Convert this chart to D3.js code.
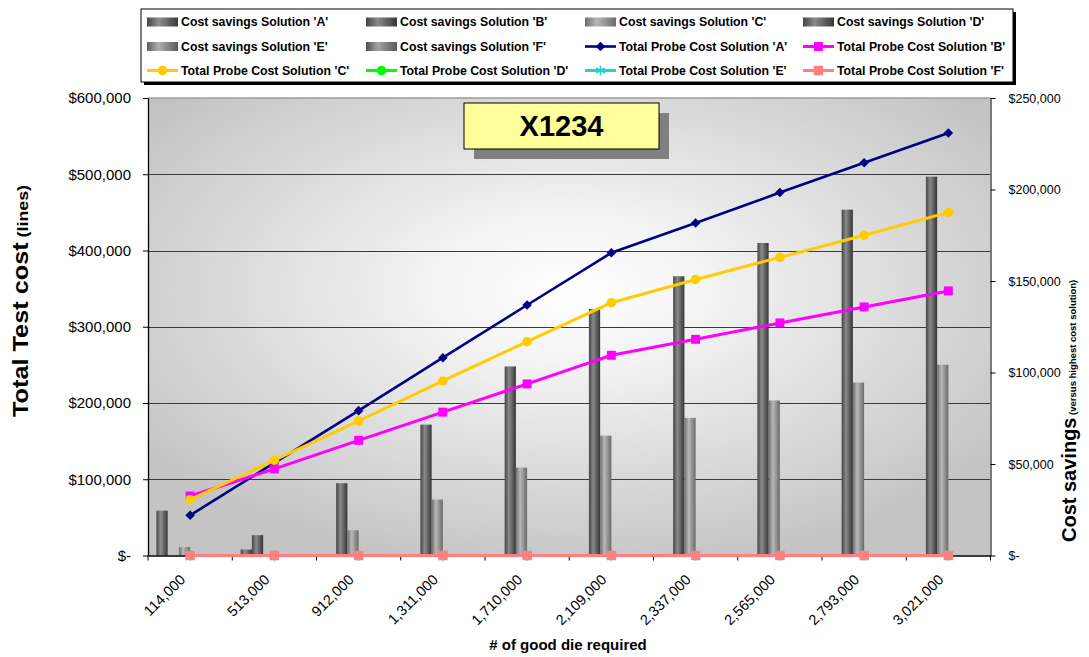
<!DOCTYPE html>
<html>
<head>
<meta charset="utf-8">
<script src="https://cdn.jsdelivr.net/npm/d3@7"></script>
<style>
  html, body { margin: 0; padding: 0; background: #fff; }
  svg { display: block; font-family: "Liberation Sans", Arial, sans-serif; }
</style>
</head>
<body>
<svg id="chart" width="1089" height="657"></svg>
<script>
// ---- data ----
const categories = ["114,000", "513,000", "912,000", "1,311,000", "1,710,000",
                    "2,109,000", "2,337,000", "2,565,000", "2,793,000", "3,021,000"];
const solutions = ["A", "B", "C", "D", "E", "F"];

// Total probe cost per solution (left axis)
const probeCostA = [52700, 121600, 190000, 259400, 328500, 397000, 436000, 476000, 515000, 554000];
const probeCostB = [78000, 113600, 151000, 188000, 225000, 262600, 283500, 305000, 326000, 347000];
const probeCostC = [73200, 125000, 176400, 228900, 280400, 331500, 362000, 391000, 420000, 450000];
const probeCostD = [0, 0, 0, 0, 0, 0, 0, 0, 0, 0];
const probeCostE = [0, 0, 0, 0, 0, 0, 0, 0, 0, 0];
const probeCostF = [0, 0, 0, 0, 0, 0, 0, 0, 0, 0];

// Cost savings versus the highest cost solution (right axis)
const savingsA = [24500, 3300, 0, 0, 0, 0, 0, 0, 0, 0];
const savingsB = [0, 11100, 39500, 71500, 103300, 134700, 152600, 170800, 189000, 207000];
const savingsC = [4600, 0, 13800, 30600, 48000, 65500, 75200, 84700, 94500, 104200];
const savingsD = [0, 0, 0, 0, 0, 0, 0, 0, 0, 0];
const savingsE = [0, 0, 0, 0, 0, 0, 0, 0, 0, 0];
const savingsF = [0, 0, 0, 0, 0, 0, 0, 0, 0, 0];

const leftTicks = [0, 100000, 200000, 300000, 400000, 500000, 600000];
const rightTicks = [0, 50000, 100000, 150000, 200000, 250000];

const chartTitle = "X1234";
const xTitle = "# of good die required";

// ---- series tables built from the arrays above ----
const savingsSeries = [savingsA, savingsB, savingsC, savingsD, savingsE, savingsF]
  .map((vals, i) => ({ key: solutions[i], name: `Cost savings Solution '${solutions[i]}'`, vals }));
const costSeries = [probeCostA, probeCostB, probeCostC, probeCostD, probeCostE, probeCostF]
  .map((vals, i) => ({ key: solutions[i], name: `Total Probe Cost Solution '${solutions[i]}'`, vals }));

const lineStyle = {
  A: { color: "#000080", width: 2.6, symbol: "diamond" },
  B: { color: "#ff00ff", width: 3,   symbol: "square" },
  C: { color: "#ffcc00", width: 3,   symbol: "circle" },
  D: { color: "#00ff00", width: 3,   symbol: "circle" },
  E: { color: "#33cccc", width: 3,   symbol: "asterisk" },
  F: { color: "#ff8080", width: 3,   symbol: "squareBig" }
};
const barShade = {
  A: ["#474747", "#8f8f8f", "#3a3a3a"],
  B: ["#444444", "#8a8a8a", "#363636"],
  C: ["#6e6e6e", "#b8b8b8", "#6a6a6a"],
  D: ["#444444", "#8a8a8a", "#363636"],
  E: ["#5e5e5e", "#b0b0b0", "#5a5a5a"],
  F: ["#4e4e4e", "#a4a4a4", "#5a5a5a"]
};

// ---- layout ----
const plot = { left: 148, right: 990.5, top: 98, bottom: 555.5 };
const FONT = "'Liberation Sans', Arial, sans-serif";
const svg = d3.select("#chart");
const defs = svg.append("defs");

const bg = defs.append("radialGradient").attr("id", "plotBg")
  .attr("cx", 0.5).attr("cy", 0.42).attr("r", 0.62).attr("fx", 0.5).attr("fy", 0.42);
bg.append("stop").attr("offset", 0).attr("stop-color", "#ffffff");
bg.append("stop").attr("offset", 0.25).attr("stop-color", "#f4f4f4");
bg.append("stop").attr("offset", 1).attr("stop-color", "#c4c4c4");

solutions.forEach(k => {
  const g = defs.append("linearGradient").attr("id", "bar" + k)
    .attr("x1", 0).attr("x2", 1).attr("y1", 0).attr("y2", 0);
  g.append("stop").attr("offset", 0).attr("stop-color", barShade[k][0]);
  g.append("stop").attr("offset", 0.38).attr("stop-color", barShade[k][1]);
  g.append("stop").attr("offset", 1).attr("stop-color", barShade[k][2]);
});

// ---- scales ----
const x0 = d3.scaleBand().domain(categories).range([plot.left, plot.right]);
const x1 = d3.scaleBand().domain(solutions).range([0, x0.bandwidth()])
  .paddingInner(0).paddingOuter(0.75);
const yL = d3.scaleLinear().domain([0, 600000]).range([plot.bottom, plot.top]);
const yR = d3.scaleLinear().domain([0, 250000]).range([plot.bottom, plot.top]);
const money = d => d === 0 ? "$-" : d3.format("$,")(d);

// ---- plot area ----
svg.append("rect")
  .attr("x", plot.left).attr("y", plot.top)
  .attr("width", plot.right - plot.left).attr("height", plot.bottom - plot.top)
  .attr("fill", "url(#plotBg)");
svg.append("line")
  .attr("x1", plot.left).attr("x2", plot.right)
  .attr("y1", plot.top).attr("y2", plot.top)
  .attr("stroke", "#9c9c9c").attr("stroke-width", 1.5);

// gridlines on the left-axis ticks
svg.append("g").selectAll("line")
  .data(leftTicks.filter(t => t > 0 && t < 600000))
  .join("line")
  .attr("x1", plot.left).attr("x2", plot.right)
  .attr("y1", d => Math.round(yL(d)) + 0.5).attr("y2", d => Math.round(yL(d)) + 0.5)
  .attr("stroke", "#3a3a3a").attr("stroke-width", 1.1);

// ---- savings bars ----
const barG = svg.append("g");
savingsSeries.forEach(s => {
  barG.append("g").selectAll("rect")
    .data(s.vals.map((v, i) => ({ cat: categories[i], v })).filter(d => d.v > 0))
    .join("rect")
    .attr("x", d => x0(d.cat) + x1(s.key))
    .attr("width", x1.bandwidth())
    .attr("y", d => yR(d.v))
    .attr("height", d => yR(0) - yR(d.v))
    .attr("fill", `url(#bar${s.key})`);
});

// ---- axes ----
const leftAxis = svg.append("g")
  .attr("transform", `translate(${plot.left},0)`)
  .call(d3.axisLeft(yL).tickValues(leftTicks).tickFormat(money)
    .tickSize(5).tickSizeOuter(0).tickPadding(12));
leftAxis.attr("font-family", FONT);
leftAxis.select(".domain").attr("stroke", "#000").attr("stroke-width", 1.3);
leftAxis.selectAll(".tick line").attr("stroke", "#000");
leftAxis.selectAll("text").attr("font-size", 15).attr("fill", "#000");

const rightAxis = svg.append("g")
  .attr("transform", `translate(${plot.right},0)`)
  .call(d3.axisRight(yR).tickValues(rightTicks).tickFormat(money)
    .tickSize(5).tickSizeOuter(0).tickPadding(13));
rightAxis.attr("font-family", FONT);
rightAxis.select(".domain").attr("stroke", "#7a7a7a").attr("stroke-width", 2);
rightAxis.selectAll(".tick line").attr("stroke", "#000");
rightAxis.selectAll("text").attr("font-size", 12.5).attr("fill", "#000");

const bottomAxis = svg.append("g")
  .attr("transform", `translate(0,${plot.bottom})`)
  .call(d3.axisBottom(x0).tickSize(0).tickSizeOuter(0));
bottomAxis.attr("font-family", FONT);
bottomAxis.select(".domain").attr("stroke", "#000").attr("stroke-width", 1.3);
bottomAxis.selectAll("text")
  .attr("font-size", 14.5).attr("fill", "#000")
  .attr("text-anchor", "end")
  .attr("x", 0).attr("y", 0).attr("dy", 0)
  .attr("transform", "translate(-4,25) rotate(-45)");
// tick marks at category boundaries
bottomAxis.append("g").selectAll("line")
  .data(categories.map(c => x0(c)).concat([plot.right]))
  .join("line")
  .attr("x1", d => d).attr("x2", d => d)
  .attr("y1", 0).attr("y2", 5)
  .attr("stroke", "#000");

// ---- total probe cost lines ----
function markerPath(sym) {
  if (sym === "diamond") return d3.symbol().type(d3.symbolSquare).size(46)();
  if (sym === "square") return d3.symbol().type(d3.symbolSquare).size(80)();
  if (sym === "squareBig") return d3.symbol().type(d3.symbolSquare).size(90)();
  if (sym === "circle") return d3.symbol().type(d3.symbolCircle).size(72)();
  if (sym === "asterisk") return d3.symbol().type(d3.symbolAsterisk || d3.symbolCross).size(70)();
  return d3.symbol()();
}
function drawMarker(g, sym, color, x, y) {
  const p = g.append("path").attr("d", markerPath(sym))
    .attr("transform", `translate(${x},${y})` + (sym === "diamond" ? " rotate(45)" : ""));
  if (sym === "asterisk") p.attr("fill", "none").attr("stroke", color).attr("stroke-width", 1.5);
  else p.attr("fill", color);
  return p;
}

const lineGen = d3.line()
  .x((d, i) => x0(categories[i]) + x0.bandwidth() / 2)
  .y(d => yL(d));
const lineG = svg.append("g");
costSeries.forEach(s => {
  const st = lineStyle[s.key];
  const g = lineG.append("g");
  g.append("path").datum(s.vals).attr("d", lineGen)
    .attr("fill", "none").attr("stroke", st.color).attr("stroke-width", st.width)
    .attr("stroke-linejoin", "round");
  s.vals.forEach((v, i) => drawMarker(g, st.symbol, st.color,
    x0(categories[i]) + x0.bandwidth() / 2, yL(v)));
});

// ---- axis titles ----
svg.append("text")
  .attr("x", 568).attr("y", 650)
  .attr("text-anchor", "middle").attr("font-weight", "bold").attr("font-size", 15)
  .text(xTitle);

const leftTitle = svg.append("text")
  .attr("transform", "translate(28,417) rotate(-90) scale(1.15,1)")
  .attr("font-weight", "bold");
leftTitle.append("tspan").attr("font-size", 22).text("Total Test cost");
leftTitle.append("tspan").attr("font-size", 15.5).text(" (lines)");

const rightTitle = svg.append("text")
  .attr("transform", "translate(1076,542) rotate(-90)")
  .attr("font-weight", "bold");
rightTitle.append("tspan").attr("font-size", 20).text("Cost savings");
rightTitle.append("tspan").attr("font-size", 9.5).text(" (versus highest cost solution)");

// ---- chart title box ----
const titleBox = { x: 464, y: 103, w: 195, h: 46 };
svg.append("rect")
  .attr("x", titleBox.x + 10).attr("y", titleBox.y + 10)
  .attr("width", titleBox.w).attr("height", titleBox.h).attr("fill", "#808080");
svg.append("rect")
  .attr("x", titleBox.x).attr("y", titleBox.y)
  .attr("width", titleBox.w).attr("height", titleBox.h)
  .attr("fill", "#ffff99").attr("stroke", "#000").attr("stroke-width", 1);
svg.append("text")
  .attr("x", titleBox.x + titleBox.w / 2).attr("y", titleBox.y + 33)
  .attr("text-anchor", "middle").attr("font-weight", "bold").attr("font-size", 29)
  .text(chartTitle);

// ---- legend ----
const legendBox = { x: 141, y: 9, w: 872, h: 73 };
svg.append("rect")
  .attr("x", legendBox.x + 3).attr("y", legendBox.y + 3)
  .attr("width", legendBox.w).attr("height", legendBox.h).attr("fill", "#000");
svg.append("rect")
  .attr("x", legendBox.x).attr("y", legendBox.y)
  .attr("width", legendBox.w).attr("height", legendBox.h)
  .attr("fill", "#fff").attr("stroke", "#000").attr("stroke-width", 1);

const legendItems = savingsSeries.map(s => ({ type: "bar", s }))
  .concat(costSeries.map(s => ({ type: "line", s })));
const colX = [147, 366, 585, 803];
const rowY = [22, 46.5, 70.5];
const legendG = svg.append("g");
legendItems.forEach((it, i) => {
  const cx = colX[i % 4], cy = rowY[Math.floor(i / 4)];
  const g = legendG.append("g");
  if (it.type === "bar") {
    g.append("rect").attr("x", cx).attr("y", cy - 4.5).attr("width", 31).attr("height", 9)
      .attr("fill", `url(#bar${it.s.key})`);
  } else {
    const st = lineStyle[it.s.key];
    g.append("line").attr("x1", cx).attr("x2", cx + 31).attr("y1", cy).attr("y2", cy)
      .attr("stroke", st.color).attr("stroke-width", st.width);
    drawMarker(g, st.symbol, st.color, cx + 15.5, cy);
  }
  g.append("text").attr("x", cx + 34).attr("y", cy + 4.3)
    .attr("font-weight", "bold").attr("font-size", 12.3)
    .text(it.s.name);
});
</script>
</body>
</html>
